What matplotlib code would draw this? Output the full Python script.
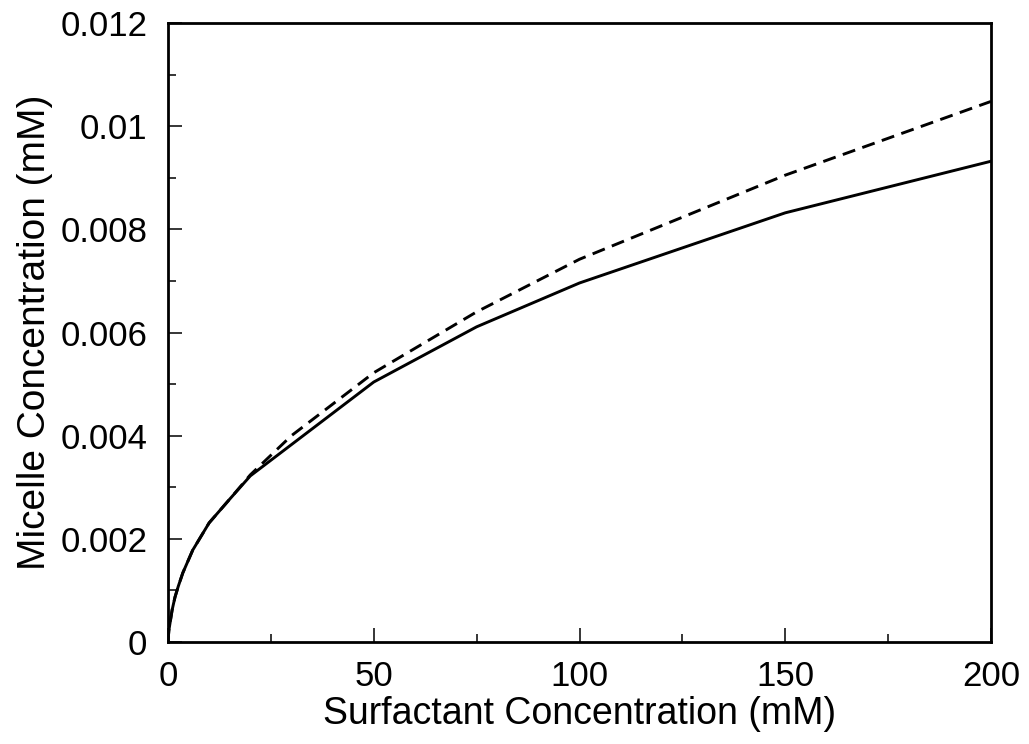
import matplotlib.pyplot as plt
from matplotlib.ticker import MultipleLocator, FuncFormatter

plt.rcParams['font.family'] = ['Liberation Sans', 'DejaVu Sans']

# Surfactant concentration (mM) and micelle concentration (mM)
surf_solid = [0, 0.2, 0.5, 1, 1.7, 2.5, 3.6, 6, 10, 15, 20, 50, 75, 100, 150, 200]
mic_solid = [0, 0.00022, 0.00037, 0.00062, 0.00087, 0.00108, 0.00134, 0.00178, 0.00231, 0.00277,
             0.00322, 0.00504, 0.00611, 0.00696, 0.00832, 0.00932]

surf_dashed = [0, 0.2, 0.5, 1, 1.7, 2.5, 3.6, 6, 10, 15, 20, 30, 50, 75, 100, 150, 200]
mic_dashed = [0, 0.00022, 0.00037, 0.00062, 0.00087, 0.00108, 0.00134, 0.00178, 0.00231, 0.00277,
              0.00324, 0.0040, 0.00522, 0.0064, 0.00742, 0.00905, 0.01048]


def fmt_y(v, pos):
    if abs(v) < 1e-12:
        return '0'
    return ('%.3f' % v).rstrip('0')


fig = plt.figure(figsize=(10.29, 7.44), dpi=100)
ax = fig.add_axes([168 / 1029, 1 - 642 / 744, (991 - 168) / 1029, (642 - 23) / 744])

ax.plot(surf_solid, mic_solid, color='black', lw=2.1)
ax.plot(surf_dashed, mic_dashed, color='black', lw=2.1, linestyle=(0, (4.5, 2.6)))

ax.set_xlim(0, 200)
ax.set_ylim(0, 0.012)
ax.xaxis.set_major_locator(MultipleLocator(50))
ax.xaxis.set_minor_locator(MultipleLocator(25))
ax.yaxis.set_major_locator(MultipleLocator(0.002))
ax.yaxis.set_minor_locator(MultipleLocator(0.001))
ax.yaxis.set_major_formatter(FuncFormatter(fmt_y))

ax.tick_params(which='both', direction='in', top=False, right=False, width=1.1, labelsize=25)
ax.tick_params(axis='x', which='major', length=10, pad=13)
ax.tick_params(axis='y', which='major', length=10, pad=15)
ax.tick_params(which='minor', length=6)
for s in ax.spines.values():
    s.set_linewidth(2)

ax.set_xlabel('Surfactant Concentration (mM)', fontsize=27, labelpad=2)
ax.set_ylabel('Micelle Concentration (mM)', fontsize=28, labelpad=5)

fig.savefig('out.png', dpi=100)
